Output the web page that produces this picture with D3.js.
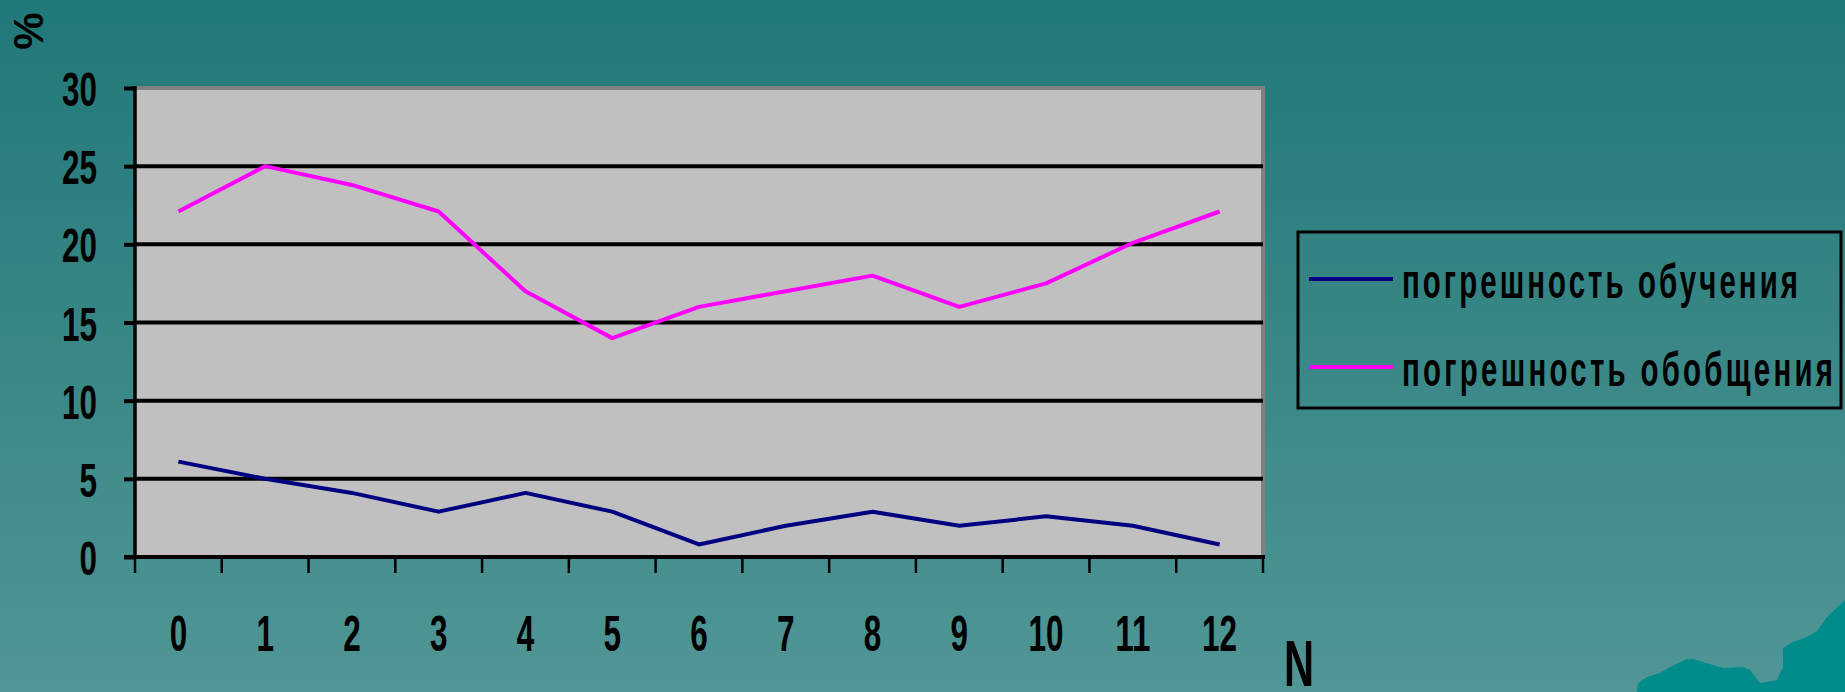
<!DOCTYPE html>
<html>
<head>
<meta charset="utf-8">
<script src="https://cdn.jsdelivr.net/npm/d3@7"></script>
<style>
  html, body { margin: 0; padding: 0; overflow: hidden; }
  text { font-family: "Liberation Sans", Arial, sans-serif; font-weight: bold; }
</style>
</head>
<body>
<svg id="chart"></svg>
<script>
// data
const epochs = ["0", "1", "2", "3", "4", "5", "6", "7", "8", "9", "10", "11", "12"];
const trainError = [6.1, 5.0, 4.1, 2.9, 4.1, 2.9, 0.8, 2.0, 2.9, 2.0, 2.6, 2.0, 0.8];
const generalError = [22.1, 25.0, 23.8, 22.1, 17.0, 14.0, 16.0, 17.0, 18.0, 16.0, 17.5, 20.1, 22.1];
const yTicks = [0, 5, 10, 15, 20, 25, 30];
const seriesNames = ["погрешность обучения", "погрешность обобщения"];
const seriesColors = ["#000080", "#ff00ff"];

const WIDTH = 1845, HEIGHT = 692;
const plot = { left: 135, right: 1263, top: 88, bottom: 557 };

const svg = d3.select("#chart")
    .attr("width", WIDTH)
    .attr("height", HEIGHT);

// background gradient
const defs = svg.append("defs");
const grad = defs.append("linearGradient")
    .attr("id", "bg")
    .attr("x1", 0).attr("y1", 0).attr("x2", 0).attr("y2", 1);
grad.append("stop").attr("offset", "0%").attr("stop-color", "#217878");
grad.append("stop").attr("offset", "100%").attr("stop-color", "#519696");

svg.append("rect")
    .attr("width", WIDTH)
    .attr("height", HEIGHT)
    .attr("fill", "url(#bg)");

// decorative hills in the corner
svg.append("path")
    .attr("d", "M1637,692 L1638,683 L1647,677 L1660,673 L1670,667 L1687,659 L1693,659 L1723,668 L1743,667 L1750,670 L1760,683 L1777,680 L1783,667 L1783,648 L1793,642 L1807,637 L1817,631 L1827,617 L1845,600 L1845,692 Z")
    .attr("fill", "#008c8a");

const x = d3.scaleBand()
    .domain(epochs)
    .range([plot.left, plot.right]);

const y = d3.scaleLinear()
    .domain([0, 30])
    .range([plot.bottom, plot.top]);

// plot area
svg.append("rect")
    .attr("x", plot.left)
    .attr("y", plot.top)
    .attr("width", plot.right - plot.left)
    .attr("height", plot.bottom - plot.top)
    .attr("fill", "#c0c0c0");

// grey frame top / right
svg.append("path")
    .attr("d", `M${plot.left},${plot.top} H${plot.right} V${plot.bottom}`)
    .attr("fill", "none")
    .attr("stroke", "#808080")
    .attr("stroke-width", 4);

// gridlines
svg.append("g")
    .selectAll("line")
    .data(yTicks.filter(d => d > 0 && d < 30))
    .join("line")
    .attr("x1", plot.left)
    .attr("x2", plot.right)
    .attr("y1", d => y(d))
    .attr("y2", d => y(d))
    .attr("stroke", "#000")
    .attr("stroke-width", 4);

// squeeze text to a width (glyphs narrowed, then letter-spaced)
function fitText(sel, target, squeeze) {
    sel.each(function () {
        const t = d3.select(this);
        const w = target(t.text());
        const natural = this.getComputedTextLength() * squeeze;
        t.attr("textLength", w / squeeze)
         .attr("lengthAdjust", natural < w ? "spacing" : "spacingAndGlyphs");
    });
}

// y axis
const yAxis = svg.append("g")
    .attr("transform", `translate(${plot.left},0)`)
    .call(d3.axisLeft(y).tickValues(yTicks).tickSize(11).tickPadding(27));
yAxis.select(".domain").attr("stroke-width", 3.5).attr("d", `M0,${plot.top - 2}V${plot.bottom + 2}`);
yAxis.selectAll(".tick line").attr("stroke-width", 4);
yAxis.selectAll("text")
    .attr("font-size", 49)
    .attr("fill", "#000")
    .attr("dy", "0.36em");
fitText(yAxis.selectAll("text"), s => s.length * 17.5, 1);

// x axis
const xAxis = svg.append("g")
    .attr("transform", `translate(0,${plot.bottom})`)
    .call(d3.axisBottom(x).tickSize(0).tickPadding(0));
xAxis.select(".domain").remove();
xAxis.append("line")
    .attr("x1", plot.left - 11)
    .attr("x2", plot.right + 2)
    .attr("stroke", "#000")
    .attr("stroke-width", 4);
xAxis.selectAll(".boundary")
    .data(d3.range(epochs.length + 1))
    .join("line")
    .attr("class", "boundary")
    .attr("x1", i => plot.left + i * x.step())
    .attr("x2", i => plot.left + i * x.step())
    .attr("y1", 0)
    .attr("y2", 16)
    .attr("stroke", "#000")
    .attr("stroke-width", 2.5);
xAxis.selectAll(".tick text")
    .attr("font-size", 50)
    .attr("fill", "#000")
    .attr("y", 94)
    .attr("dy", 0);
fitText(xAxis.selectAll(".tick text"), s => s.length * 17.5, 1);

// lines
const line = d3.line()
    .x((d, i) => x(epochs[i]) + x.bandwidth() / 2)
    .y(d => y(d));

[trainError, generalError].forEach((series, k) => {
    svg.append("path")
        .datum(series)
        .attr("d", line)
        .attr("fill", "none")
        .attr("stroke", seriesColors[k])
        .attr("stroke-width", 4)
        .attr("stroke-linejoin", "round");
});

// axis titles
svg.append("text")
    .attr("transform", "translate(28,31) rotate(-90)")
    .attr("text-anchor", "middle")
    .attr("dy", "0.36em")
    .attr("font-size", 42)
    .text("%");

svg.append("text")
    .attr("transform", "translate(1299,686) scale(0.64,1)")
    .attr("text-anchor", "middle")
    .attr("font-size", 65)
    .text("N");

// legend
const legend = svg.append("g");
legend.append("rect")
    .attr("x", 1298)
    .attr("y", 232)
    .attr("width", 543)
    .attr("height", 176)
    .attr("fill", "none")
    .attr("stroke", "#000")
    .attr("stroke-width", 3);

const legendRows = [279, 367];
const legendWidths = [396, 431];
const squeeze = 0.6;
seriesNames.forEach((name, k) => {
    legend.append("line")
        .attr("x1", 1309)
        .attr("x2", 1393)
        .attr("y1", legendRows[k])
        .attr("y2", legendRows[k])
        .attr("stroke", seriesColors[k])
        .attr("stroke-width", 4);
    legend.append("text")
        .attr("transform", `translate(1402,${legendRows[k] + 19}) scale(${squeeze},1)`)
        .attr("font-size", 49)
        .attr("fill", "#000")
        .text(name);
});
fitText(legend.selectAll("text"), s => legendWidths[seriesNames.indexOf(s)], squeeze);
</script>
</body>
</html>
